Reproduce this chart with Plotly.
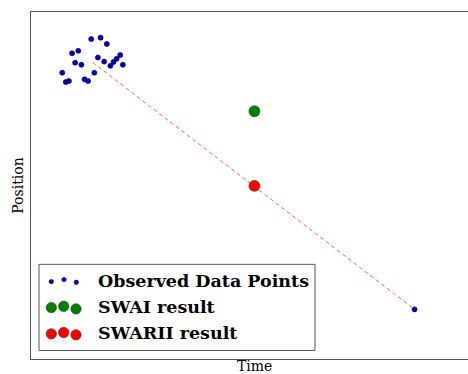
import plotly.graph_objects as go

# Observed positions over time (arbitrary units)
obs_time = [13.5, 15.6, 17.0, 9.2, 10.6, 9.9, 11.3, 7.0, 7.8, 8.5,
            12.0, 12.8, 14.2, 15.0, 16.4, 17.8, 18.5, 19.2, 20.0, 20.6, 86.0]
obs_pos = [92.2, 92.6, 90.8, 88.1, 88.8, 85.4, 84.8, 82.5, 79.8, 80.1,
           80.6, 80.1, 82.5, 86.9, 85.7, 84.5, 85.6, 86.5, 87.6, 84.8, 14.3]

# Estimator outputs
swai_time = [50.1]
swai_pos = [71.4]
swarii_time = [50.1]
swarii_pos = [49.9]

# Trend from the cluster centre to the late observation
trend_time = [13.8, 86.0]
trend_pos = [85.5, 14.3]

legend_labels = ["Observed Data Points", "SWAI result", "SWARII result"]

W, H = 468, 374
L, T, B = 31, 12, 14.5
PW, PH = W - L, H - T - B


def px(x, y):
    """Pixel position -> paper coordinates of the plot area."""
    return (x - L) / PW, (H - B - y) / PH


fig = go.Figure()

fig.add_trace(go.Scatter(
    x=trend_time, y=trend_pos, mode="lines",
    line=dict(color="rgba(255,0,0,0.65)", width=1, dash="4px,3px"),
    showlegend=False, hoverinfo="skip"))

fig.add_trace(go.Scatter(
    x=obs_time, y=obs_pos, mode="markers",
    marker=dict(size=5, color="#0000c8", line=dict(color="#000040", width=0.7)),
    showlegend=False))

fig.add_trace(go.Scatter(
    x=swai_time, y=swai_pos, mode="markers",
    marker=dict(size=11, color="#008000", line=dict(color="#333333", width=0.6)),
    showlegend=False))

fig.add_trace(go.Scatter(
    x=swarii_time, y=swarii_pos, mode="markers",
    marker=dict(size=11, color="#ff0000", line=dict(color="#333333", width=0.6)),
    showlegend=False))

shapes = []
annotations = []

# Legend frame
x0, y0 = px(39, 351)
x1, y1 = px(315, 264.7)
shapes.append(dict(type="rect", xref="paper", yref="paper", x0=x0, y0=y0, x1=x1, y1=y1,
                   line=dict(color="#555555", width=1), fillcolor="white", layer="above"))

# Legend glyphs: three scatter samples per entry
glyphs = [
    ([(51.3, 282), (64, 280), (76.3, 282.7)], 2.2, "#0000c8", "#000040"),
    ([(51.3, 308), (63.7, 306.7), (76, 309.3)], 5.2, "#008000", "#333333"),
    ([(51.3, 334.3), (63.7, 333), (76, 335.3)], 5.2, "#ff0000", "#333333"),
]
for pts, r, fill, edge in glyphs:
    for cx, cy in pts:
        a0, b0 = px(cx - r, cy + r)
        a1, b1 = px(cx + r, cy - r)
        shapes.append(dict(type="circle", xref="paper", yref="paper",
                           x0=a0, y0=b0, x1=a1, y1=b1,
                           fillcolor=fill, line=dict(color=edge, width=0.6), layer="above"))

for label, cy in zip(legend_labels, [281, 307, 333.5]):
    ax, ay = px(96, cy)
    annotations.append(dict(text=label, xref="paper", yref="paper", x=ax, y=ay,
                            xanchor="left", yanchor="middle", showarrow=False,
                            font=dict(family="DejaVu Serif", size=17.5, color="black",
                                      weight="bold")))

# Axis titles
tx, ty = px(254, 366.5)
annotations.append(dict(text="Time", xref="paper", yref="paper", x=tx, y=ty,
                        xanchor="center", yanchor="middle", showarrow=False,
                        font=dict(family="DejaVu Serif", size=14, color="black")))
sx, sy = px(18, 186)
annotations.append(dict(text="Position", xref="paper", yref="paper", x=sx, y=sy,
                        xanchor="center", yanchor="middle", showarrow=False, textangle=-90,
                        font=dict(family="DejaVu Serif", size=14, color="black")))

fig.update_layout(
    width=W, height=H,
    margin=dict(l=L, r=0, t=T, b=B, pad=0),
    paper_bgcolor="white", plot_bgcolor="white",
    shapes=shapes, annotations=annotations,
    xaxis=dict(range=[0, 97.98], showticklabels=False, ticks="", showgrid=False,
               zeroline=False, showline=True, mirror=True,
               linecolor="#555555", linewidth=1.3),
    yaxis=dict(range=[0, 100], showticklabels=False, ticks="", showgrid=False,
               zeroline=False, showline=True, mirror=False,
               linecolor="#555555", linewidth=1.3),
    showlegend=False,
)

fig.write_html("out.html")
